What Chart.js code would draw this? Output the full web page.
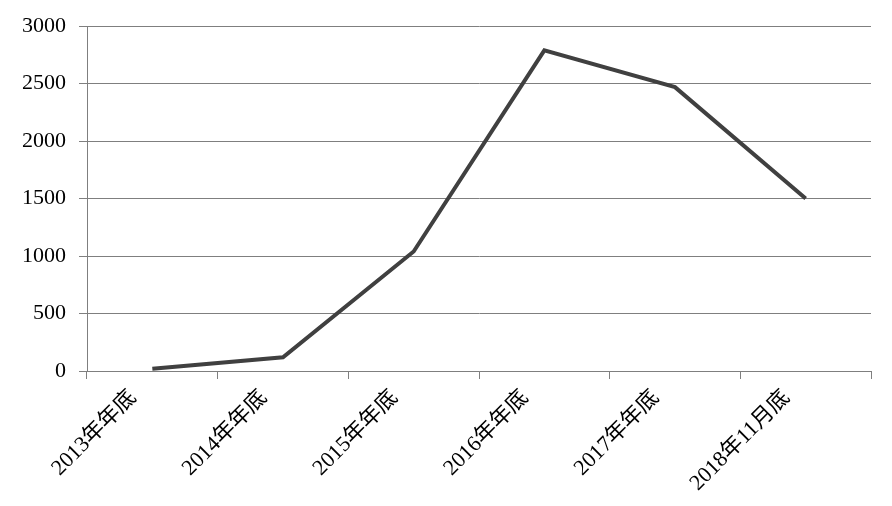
<!DOCTYPE html>
<html>
<head>
<meta charset="utf-8">
<script src="https://cdn.jsdelivr.net/npm/chart.js@4/dist/chart.umd.min.js"></script>
<style>
  html, body { margin: 0; padding: 0; background: #ffffff; }
  #wrap { width: 892px; height: 506px; position: relative; }
</style>
</head>
<body>
<div id="wrap"><canvas id="c" width="892" height="506"></canvas></div>
<script>
const categories = ['2013年年底', '2014年年底', '2015年年底', '2016年年底', '2017年年底', '2018年11月底'];
const values = [20, 120, 1040, 2790, 2470, 1500];
const yTicks = [0, 500, 1000, 1500, 2000, 2500, 3000];

const fontFamily = "'Liberation Serif', 'Noto Sans CJK SC', serif";
const gridColor = '#7f7f7f';

new Chart(document.getElementById('c'), {
  type: 'line',
  data: {
    labels: categories,
    datasets: [{
      data: values,
      borderColor: '#404040',
      borderWidth: 4,
      pointRadius: 0,
      tension: 0,
      fill: false
    }]
  },
  options: {
    responsive: false,
    animation: false,
    devicePixelRatio: 1,
    plugins: { legend: { display: false }, tooltip: { enabled: false } },
    layout: { padding: { left: 0, right: 21, top: 26, bottom: 0 } },
    scales: {
      x: {
        type: 'category',
        offset: true,
        grid: {
          offset: true,
          drawOnChartArea: false,
          drawTicks: true,
          tickLength: 8,
          color: gridColor,
          lineWidth: 1
        },
        border: { display: true, color: gridColor, width: 1 },
        ticks: {
          color: '#000000',
          font: { family: fontFamily, size: 22 },
          minRotation: 45,
          maxRotation: 45,
          autoSkip: false,
          padding: 6,
          labelOffset: -19
        },
        afterFit: (scale) => { scale.height = 135; }
      },
      y: {
        min: 0,
        max: 3000,
        afterBuildTicks: (scale) => { scale.ticks = yTicks.map(v => ({ value: v })); },
        grid: {
          color: gridColor,
          lineWidth: 1,
          drawTicks: true,
          tickLength: 8
        },
        border: { display: true, color: gridColor, width: 1 },
        ticks: {
          color: '#000000',
          font: { family: fontFamily, size: 22 },
          padding: 13,
          callback: (v) => String(v)
        },
        afterFit: (scale) => { scale.width = 87; }
      }
    }
  }
});
</script>
</body>
</html>
